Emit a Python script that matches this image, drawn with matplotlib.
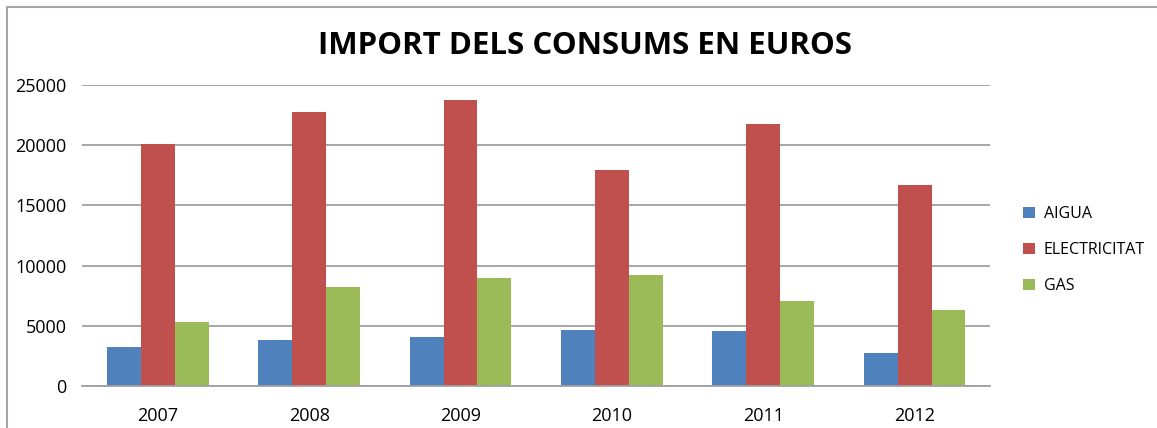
import numpy as np
import matplotlib.pyplot as plt
from matplotlib.patches import Rectangle

years = ['2007', '2008', '2009', '2010', '2011', '2012']
aigua = [3260, 3840, 4090, 4670, 4590, 2760]
electricitat = [20150, 22750, 23750, 17930, 21740, 16680]
gas = [5340, 8240, 8990, 9240, 7080, 6330]

plt.rcParams['font.family'] = ['Open Sans', 'DejaVu Sans']

fig = plt.figure(figsize=(11.57, 4.28), dpi=100)
ax = fig.add_axes([0.0709, 0.0981, 0.785, 0.703])

# chart border (top and left edges visible)
fig.patches.append(Rectangle((7 / 1157, -0.1), 1.2, 1 - 7 / 428 + 0.1,
                             transform=fig.transFigure, fill=False,
                             edgecolor='#a6a6a6', linewidth=1.5))

x = np.arange(len(years))
w = 0.224
ax.bar(x - w, aigua, w, color='#4F81BD', label='AIGUA')
ax.bar(x, electricitat, w, color='#C0504D', label='ELECTRICITAT')
ax.bar(x + w, gas, w, color='#9BBB59', label='GAS')

ax.set_xlim(-0.5, 5.5)
ax.set_ylim(0, 25000)
ax.set_yticks(range(0, 25001, 5000))
ax.set_xticks(x)
ax.set_xticklabels(years)
ax.yaxis.grid(True, color='#a0a0a0', linewidth=1.3)
ax.set_axisbelow(True)
for s in ['top', 'right', 'left']:
    ax.spines[s].set_visible(False)
ax.spines['bottom'].set_color('#a0a0a0')
ax.spines['bottom'].set_linewidth(1.3)
ax.tick_params(length=0, labelsize=13, colors='black')
ax.tick_params(axis='x', pad=15)
ax.tick_params(axis='y', pad=11)

fig.text(0.506, 0.893, 'IMPORT DELS CONSUMS EN EUROS', ha='center', va='center',
         fontsize=22.5, fontweight='bold')

ax.legend(loc='center left', bbox_to_anchor=(1.02, 0.452), frameon=False,
          fontsize=11.5, handlelength=0.75, handleheight=0.75, labelspacing=1.25,
          handletextpad=0.55)

fig.savefig('out.png', dpi=100)
